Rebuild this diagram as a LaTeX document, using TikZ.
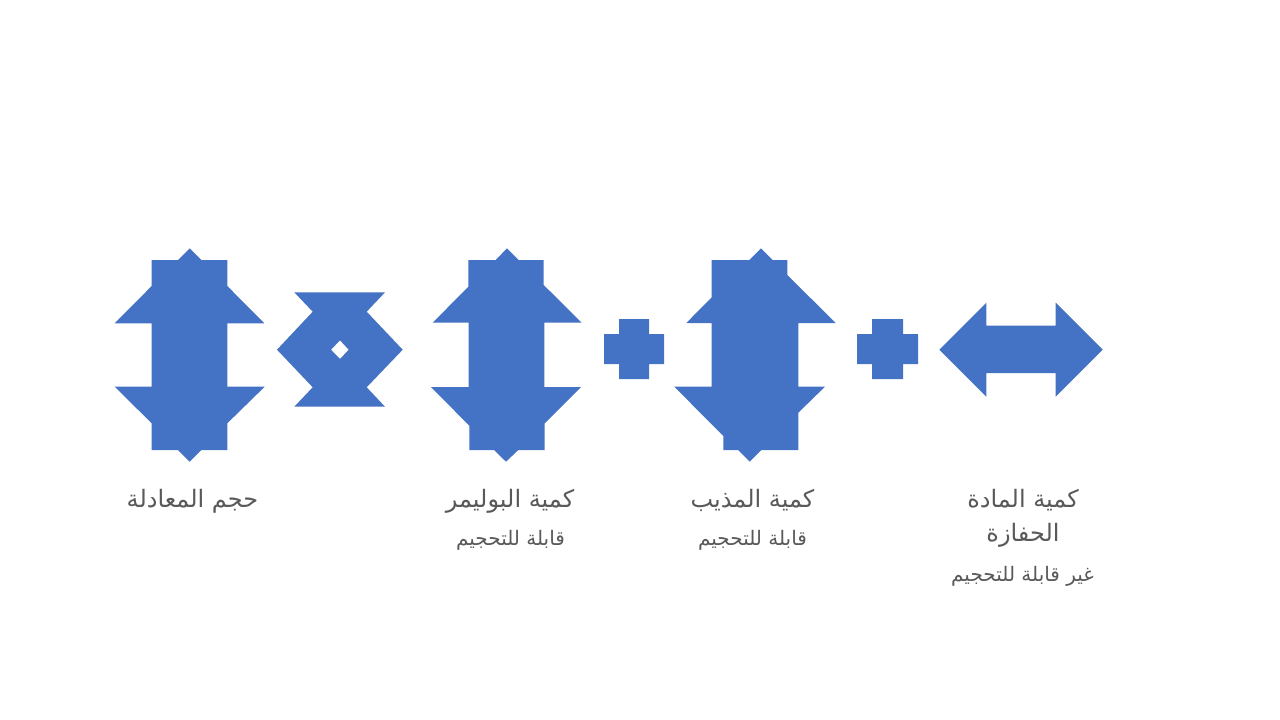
\documentclass[tikz,border=0pt]{standalone}
\usepackage{fontspec}
\TeXXeTstate=1
\newfontfamily\arabicfont[Script=Arabic]{DejaVu Sans}
\definecolor{shapeblue}{HTML}{4472C4}
\definecolor{labelgrey}{HTML}{595959}
\tikzset{
  blueshape/.style={fill=shapeblue,draw=none,even odd rule},
  mainlabel/.style={text=labelgrey,inner sep=0pt,anchor=base,font=\arabicfont\fontsize{24}{28}\selectfont},
  sublabel/.style={text=labelgrey,inner sep=0pt,anchor=base,font=\arabicfont\fontsize{20}{24}\selectfont}
}
\begin{document}
\begin{tikzpicture}[x=1pt,y=-1pt]
\useasboundingbox (0,0) rectangle (1280,720);
% first block
\fill[blueshape] (189.7,248.3)--(201.3,260)--(227.3,260)--(227.3,286)--(264.3,323.3)--(227.3,323.3)--(227.3,386.7)--(264.7,386.7)--(227.3,423.3)--(227.3,450)--(201.3,450)--(189.7,461.7)--(178,450)--(151.7,450)--(151.7,423.3)--(114.7,386.7)--(151.7,386.7)--(151.7,323.3)--(114.7,323.3)--(151.7,286)--(151.7,260)--(178,260)--cycle;
% multiply sign
\fill[blueshape] (294.3,292.3)--(385,292.3)--(366.7,311.7)--(402.7,349.7)--(366.7,387.3)--(385,406.7)--(294.3,406.7)--(312.7,387.3)--(277,349.7)--(312.7,311.7)--cycle
 (340,340.3)--(348.7,349.7)--(340,359)--(331,349.7)--cycle;
% second block
\fill[blueshape] (507,248.3)--(518.7,260)--(543.7,260)--(543.7,285)--(581.7,322.7)--(544.3,322.7)--(544.3,387)--(581,387)--(544.7,423.3)--(544.7,450)--(518.3,450)--(506,461.7)--(494,450)--(469.3,450)--(469.3,425.7)--(431,387)--(468.7,387)--(468.7,322.7)--(432.7,322.7)--(468.3,286.7)--(468.3,260)--(495.7,260)--cycle;
% plus one
\fill[blueshape] (619,319)--(649,319)--(649,334)--(664,334)--(664,364)--(649,364)--(649,379)--(619,379)--(619,364)--(604,364)--(604,334)--(619,334)--cycle;
% third block
\fill[blueshape] (761,248.3)--(772.7,260)--(787.3,260)--(787.3,275)--(835.7,323)--(798.3,323)--(798.3,386.7)--(825,386.7)--(798.3,412.7)--(798.3,450)--(761.3,450)--(749.7,461.7)--(738,450)--(723.3,450)--(723.3,436)--(674.3,386.7)--(711.7,386.7)--(711.7,323)--(686.3,323)--(711.7,297.3)--(711.7,260)--(749.3,260)--cycle;
% plus two
\fill[blueshape] (872,319)--(903,319)--(903,334)--(918,334)--(918,364)--(903,364)--(903,379)--(872,379)--(872,364)--(857,364)--(857,334)--(872,334)--cycle;
% double arrow
\fill[blueshape] (939.3,349.7)--(986.3,302.7)--(986.3,325.7)--(1055.7,325.7)--(1055.7,302.7)--(1102.7,349.7)--(1055.7,396.7)--(1055.7,373)--(986.3,373)--(986.3,396.7)--cycle;
% labels
\node[mainlabel] (volume) at (192.5,507) {\beginR حجم المعادلة\endR};
\node[mainlabel] (polymer) at (510,507) {\beginR كمية البوليمر\endR};
\node[sublabel] (polymersub) at (510.5,545) {\beginR قابلة للتحجيم\endR};
\node[mainlabel] (solvent) at (752.5,507) {\beginR كمية المذيب\endR};
\node[sublabel] (solventsub) at (752.5,545) {\beginR قابلة للتحجيم\endR};
\node[mainlabel] (catalyst) at (1023,507) {\beginR كمية المادة\endR};
\node[mainlabel] (catalysttwo) at (1023,541) {\beginR الحفازة\endR};
\node[sublabel] (catalystsub) at (1022.5,581) {\beginR غير قابلة للتحجيم\endR};
\end{tikzpicture}
\end{document}
